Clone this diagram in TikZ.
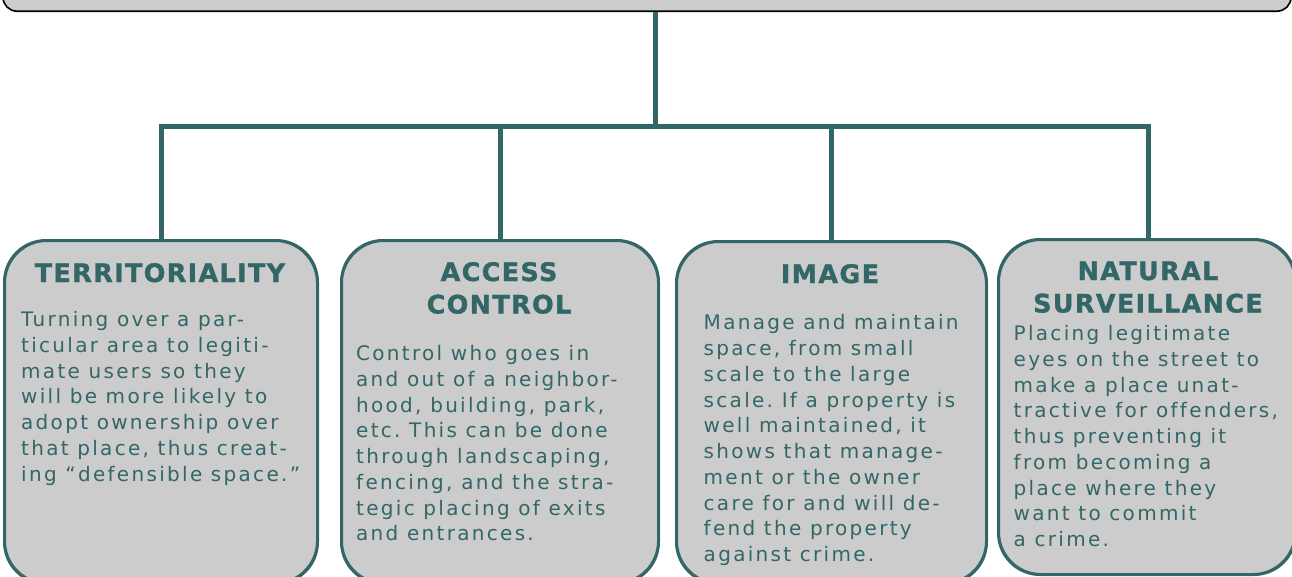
\documentclass[tikz,border=0pt]{standalone}
\usepackage{fontspec}
\setmainfont{DejaVu Sans}
\newfontfamily\bodyfont[LetterSpace=11.5, Ligatures={NoCommon}]{DejaVu Sans}
\newfontfamily\titlefont[LetterSpace=5.2, BoldFeatures={FakeBold=1.2}]{DejaVu Sans}
\definecolor{teal}{HTML}{336666}
\definecolor{boxgray}{HTML}{CCCCCC}
\tikzset{
  conn/.style={draw=teal, line width=5pt, line join=miter},
  card/.style={draw=teal, line width=2pt, fill=boxgray, rounded corners=42pt, anchor=north west, inner sep=0pt},
  cardline/.style={draw=teal, line width=2pt, rounded corners=42pt},
  headbox/.style={draw=black, line width=1.6pt, fill=boxgray, rounded corners=14pt, anchor=south, inner sep=0pt},
  cardtitle/.style={text=teal, inner sep=0pt, anchor=base, align=center, font=\titlefont\bfseries\fontsize{25.5}{32.5}\selectfont},
  cardbody/.style={text=teal, inner sep=0pt, anchor=base west, align=left, font=\bodyfont\fontsize{20}{25.75}\selectfont\frenchspacing}
}
\begin{document}
\begin{tikzpicture}[x=1pt,y=-1pt]
\useasboundingbox (0,0) rectangle (1292,576);
% header box (cropped)
\node[headbox, minimum width=1288pt, minimum height=60pt] (top) at (647,12) {};
% cards
\node[card, minimum width=312pt, minimum height=342pt] (b1) at (4,240) {};
\node[card, minimum width=316pt, minimum height=342pt] (b2) at (341,240) {};
\node[card, minimum width=309pt, minimum height=341pt] (b3) at (676,241) {};
\node[card, minimum width=296pt, minimum height=334pt] (b4) at (998,239) {};
% connectors
\coordinate (j) at (655,126);
\coordinate (c4) at (1148,126);
\draw[conn] (top.south -| j) -- (j);
\draw[conn] (b1.north) -- (b1.north |- j) -- (c4) -- (c4 |- b4.north);
\draw[conn] (b2.north) -- (b2.north |- j);
\draw[conn] (b3.north) -- (b3.north |- j);
% card outlines over connector ends
\draw[cardline] (b1.south west) rectangle (b1.north east);
\draw[cardline] (b2.south west) rectangle (b2.north east);
\draw[cardline] (b3.south west) rectangle (b3.north east);
\draw[cardline] (b4.south west) rectangle (b4.north east);
% titles (base anchor = baseline of last line)
\node[cardtitle] (t1) at (160,282) {TERRITORIALITY};
\node[cardtitle] (t2) at (499,313.5) {ACCESS\\CONTROL};
\node[cardtitle] (t3) at (830,283) {IMAGE};
\node[cardtitle] (t4) at (1148,312.5) {NATURAL\\SURVEILLANCE};
% bodies (base anchor = baseline of last line)
\node[cardbody] (d1) at (21,481.2) {Turning over a par-\\ticular area to legiti-\\mate users so they\\will be more likely to\\adopt ownership over\\that place, thus creat-\\ing “defensible space.”};
\node[cardbody] (d2) at (356,540.9) {Control who goes in\\and out of a neighbor-\\hood, building, park,\\etc. This can be done\\through landscaping,\\fencing, and the stra-\\tegic placing of exits\\and entrances.};
\node[cardbody] (d3) at (703.5,561.7) {Manage and maintain\\space, from small\\scale to the large\\scale. If a property is\\well maintained, it\\shows that manage-\\ment or the owner\\care for and will de-\\fend the property\\against crime.};
\node[cardbody] (d4) at (1013.5,546.7) {Placing legitimate\\eyes on the street to\\make a place unat-\\tractive for offenders,\\thus preventing it\\from becoming a\\place where they\\want to commit\\a crime.};
\end{tikzpicture}
\end{document}
